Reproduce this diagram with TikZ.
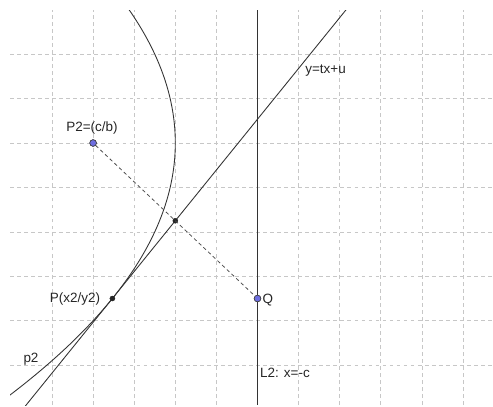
\documentclass[tikz,border=0pt]{standalone}
\usepackage{fontspec}
\setmainfont{Liberation Sans}
\begin{document}
\begin{tikzpicture}[x=1.233cm,y=1.3329cm,
  gridline/.style={draw=black!22,line width=0.6pt,dash pattern=on 3.2pt off 2.8pt},
  curve/.style={draw=black!80,line width=0.75pt},
  foldash/.style={draw=black!70,line width=0.7pt,dash pattern=on 3pt off 2.5pt},
  bluept/.style={circle,inner sep=0pt,minimum size=0.2cm,fill={rgb,255:red,110;green,110;blue,225},draw=black!75,line width=0.5pt},
  blackpt/.style={circle,inner sep=0pt,minimum size=0.15cm,fill=black!85,draw=black!85},
  lbl/.style={inner sep=0pt,text=black!85,font=\fontsize{11.5}{13.5}\selectfont}]
\useasboundingbox (-1.2652,-5.9194) rectangle (10.7299,3.2185);
\begin{scope}
\clip (-1.02,-5.90) rectangle (10.73,2.99);
\foreach \i in {0,...,4,6,7,8,9,10} \draw[gridline] (\i,-5.9) -- (\i,2.99);
\foreach \j in {-5,...,2} \draw[gridline] (-1.02,\j) -- (10.73,\j);
% parabola with focus (1,0), directrix x=5
\draw[curve,domain=-6.2:3.2,samples=120,smooth] plot ({3-\x*\x/8},\x);
% directrix L2
\coordinate (l2top) at (5,2.99);
\coordinate (l2bot) at (5,-5.9);
\draw[curve] (l2top) -- (l2bot);
% tangent line
\coordinate (tanA) at (-1.2,-6.55);
\coordinate (tanB) at (7.9,3.85);
\draw[curve] (tanA) -- (tanB);
\end{scope}
\node[bluept] (F) at (1,0) {};
\node[bluept] (Q) at (5,-3.5) {};
\node[blackpt] (M) at (3,-1.75) {};
\node[blackpt] (P) at (1.46875,-3.5) {};
\draw[foldash] (F) -- (Q);
\node[bluept] at (F) {};
\node[bluept] at (Q) {};
\node[lbl] (lF) at (0.973,0.338) {P2=(c/b)};
\node[lbl] (lt) at (6.655,1.6205) {y=tx+u};
\node[lbl] (lP) at (0.56,-3.511) {P(x2/y2)};
\node[lbl] (lp2) at (-0.511,-4.862) {p2};
\node[lbl] (lQ) at (5.255,-3.534) {Q};
\node[lbl] (lL) at (5.669,-5.177) {L2: x=-c};
\end{tikzpicture}
\end{document}
